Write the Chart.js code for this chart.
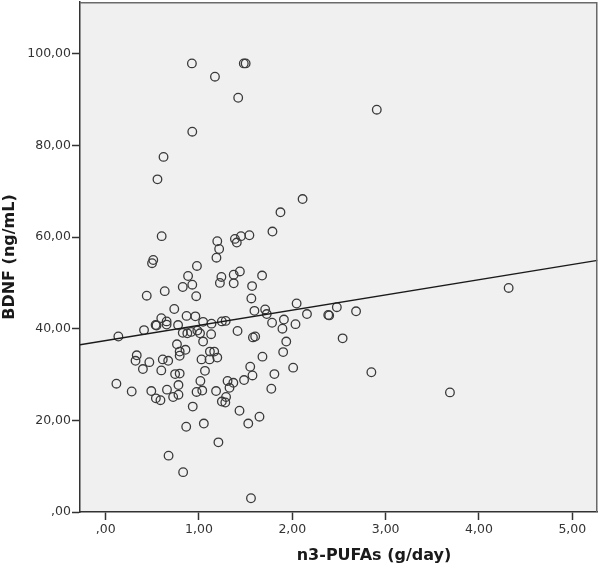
<!DOCTYPE html>
<html>
<head>
<meta charset="utf-8">
<script src="https://cdn.jsdelivr.net/npm/chart.js@4.4.1/dist/chart.umd.min.js"></script>
<style>
  html, body { margin: 0; padding: 0; background: #ffffff; }
  #wrap { width: 600px; height: 566px; position: relative; }
</style>
</head>
<body>
<div id="wrap"><canvas id="c" width="600" height="566"></canvas></div>
<script>
// n3-PUFAs (g/day)
const pufa = [
  0.924, 1.171, 1.48, 1.50, 1.42, 2.905, 0.928, 0.62, 0.555, 2.11,
  1.873, 1.787, 0.60, 1.196, 1.385, 1.45, 1.54, 1.405, 1.216, 1.187,
  0.51, 0.497, 0.978, 1.438, 0.883, 1.24, 1.372, 1.676, 0.928, 1.224,
  1.372, 0.826, 1.569, 0.633, 0.44, 0.97, 1.561, 4.318, 0.735, 2.046,
  2.477, 1.709, 1.594, 1.726, 2.157, 2.385, 2.395, 2.683, 0.596, 0.867,
  0.961, 0.653, 1.044, 1.245, 1.286, 1.134, 1.91, 1.783, 0.535, 0.545,
  0.653, 0.776, 0.411, 0.136, 0.826, 0.875, 0.916, 0.982, 1.011, 1.13,
  1.413, 1.894, 2.034, 1.578, 1.602, 2.539, 0.764, 1.044, 1.935, 0.855,
  0.793, 1.117, 1.163, 0.333, 0.793, 1.902, 0.32, 0.468, 0.612, 0.67,
  1.027, 1.113, 1.196, 1.68, 0.399, 0.596, 1.064, 1.549, 2.009, 0.744,
  0.793, 1.808, 1.573, 2.847, 0.115, 1.015, 1.306, 1.483, 1.368, 1.327,
  0.78, 0.279, 0.489, 0.657, 0.974, 1.035, 1.183, 1.775, 3.689, 0.78,
  0.538, 0.587, 0.723, 1.29, 1.245, 1.282, 0.933, 1.434, 1.648, 1.052,
  1.528, 0.863, 1.208, 0.674, 0.83, 1.557
];
// BDNF (ng/mL)
const bdnf = [
  97.9, 95.0, 97.9, 97.9, 90.4, 87.8, 83.0, 77.5, 72.6, 68.3,
  65.4, 61.2, 60.2, 59.1, 59.6, 60.2, 60.4, 58.8, 57.4, 55.5,
  55.0, 54.3, 53.7, 52.5, 51.5, 51.3, 51.8, 51.6, 49.6, 50.0,
  49.9, 49.1, 49.3, 48.2, 47.2, 47.1, 46.6, 48.9, 44.3, 45.5,
  44.7, 44.2, 43.9, 43.2, 43.2, 43.0, 42.9, 43.8, 42.3, 42.8,
  42.7, 41.6, 41.5, 41.6, 41.7, 41.1, 42.0, 41.3, 40.8, 40.7,
  40.9, 40.8, 39.7, 38.3, 39.1, 39.0, 39.3, 39.6, 39.0, 38.8,
  39.5, 40.0, 41.0, 38.1, 38.3, 37.9, 36.6, 37.2, 37.2, 35.4,
  35.0, 35.0, 35.0, 34.2, 34.1, 34.9, 33.0, 32.7, 33.3, 33.0,
  33.3, 33.3, 33.7, 33.9, 31.2, 30.9, 30.8, 31.7, 31.5, 30.1,
  30.2, 30.1, 29.8, 30.5, 28.0, 28.6, 28.6, 28.8, 28.2, 27.1,
  27.7, 26.3, 26.4, 26.7, 26.2, 26.5, 26.4, 26.9, 26.1, 25.6,
  24.8, 24.4, 25.1, 25.1, 24.1, 23.9, 23.0, 22.1, 20.8, 19.3,
  19.3, 18.6, 15.2, 12.3, 8.7, 3.0
];
// fit line endpoints
const fitX = [-0.275, 5.27];
const fitY = [36.5, 54.9];

const xTicks = [0, 1, 2, 3, 4, 5];
const xTickLabels = [',00', '1,00', '2,00', '3,00', '4,00', '5,00'];
const yTicks = [0, 20, 40, 60, 80, 100];
const yTickLabels = [',00', '20,00', '40,00', '60,00', '80,00', '100,00'];

const xTitle = 'n3-PUFAs (g/day)';
const yTitle = 'BDNF (ng/mL)';

const points = pufa.map((x, i) => ({ x: x, y: bdnf[i] }));
const fitPts = fitX.map((x, i) => ({ x: x, y: fitY[i] }));

const FONT = "'DejaVu Sans', 'Liberation Sans', sans-serif";

const plotBg = {
  id: 'plotBg',
  beforeDraw(chart) {
    const { ctx, chartArea: a } = chart;
    ctx.save();
    ctx.fillStyle = '#f0f0f0';
    ctx.fillRect(a.left, a.top, a.right - a.left, a.bottom - a.top);
    ctx.restore();
  },
  afterDraw(chart) {
    const { ctx, chartArea: a } = chart;
    ctx.save();
    ctx.strokeStyle = '#6a6a6a';
    ctx.lineWidth = 1.5;
    ctx.beginPath();
    ctx.moveTo(a.left, a.top + 0.75);
    ctx.lineTo(a.right - 0.75, a.top + 0.75);
    ctx.lineTo(a.right - 0.75, a.bottom);
    ctx.stroke();
    // x axis title
    ctx.fillStyle = '#1a1a1a';
    ctx.font = "bold 16px " + FONT;
    ctx.textAlign = 'center';
    ctx.textBaseline = 'alphabetic';
    ctx.fillText(xTitle, 374, 560);
    ctx.restore();
  }
};

new Chart(document.getElementById('c'), {
  type: 'scatter',
  data: {
    datasets: [
      {
        label: 'BDNF',
        data: points,
        showLine: false,
        pointRadius: 4.3,
        pointHoverRadius: 4.3,
        pointBorderWidth: 1.3,
        pointBorderColor: '#3a3a3a',
        pointBackgroundColor: 'rgba(0,0,0,0)',
        order: 2
      },
      {
        label: 'Fit',
        data: fitPts,
        showLine: true,
        pointRadius: 0,
        borderColor: '#1a1a1a',
        borderWidth: 1.3,
        fill: false,
        order: 1
      }
    ]
  },
  options: {
    responsive: false,
    animation: false,
    devicePixelRatio: 1,
    layout: { autoPadding: false, padding: { top: 2, right: 2.5, bottom: 0, left: 0 } },
    plugins: {
      legend: { display: false },
      tooltip: { enabled: false }
    },
    scales: {
      x: {
        type: 'linear',
        min: -0.275,
        max: 5.27,
        afterFit(scale) { scale.height = 54; scale.paddingLeft = 0; scale.paddingRight = 0; },
        afterBuildTicks(scale) { scale.ticks = xTicks.map(v => ({ value: v })); },
        grid: { drawOnChartArea: false, drawTicks: true, tickLength: 8, tickColor: '#333', tickWidth: 1.5 },
        border: { display: true, color: '#333', width: 1.5 },
        ticks: {
          padding: 2,
          color: '#333',
          font: { family: FONT, size: 12.5 },
          maxRotation: 0,
          autoSkip: false,
          callback(v) { const i = xTicks.indexOf(v); return i >= 0 ? xTickLabels[i] : ''; }
        },
        title: { display: false }
      },
      y: {
        type: 'linear',
        min: 0,
        max: 111.3,
        afterFit(scale) { scale.width = 80; scale.paddingTop = 0; scale.paddingBottom = 0; },
        afterBuildTicks(scale) { scale.ticks = yTicks.map(v => ({ value: v })); },
        grid: { drawOnChartArea: false, drawTicks: true, tickLength: 8, tickColor: '#333', tickWidth: 1.5 },
        border: { display: true, color: '#333', width: 1.5 },
        ticks: {
          padding: 1,
          color: '#333',
          font: { family: FONT, size: 12.5 },
          autoSkip: false,
          callback(v) { const i = yTicks.indexOf(v); return i >= 0 ? yTickLabels[i] : ''; }
        },
        title: {
          display: true,
          text: yTitle,
          color: '#1a1a1a',
          font: { family: FONT, size: 16, weight: 'bold' },
          padding: { top: 0, bottom: 0 }
        }
      }
    }
  },
  plugins: [plotBg]
});
</script>
</body>
</html>
